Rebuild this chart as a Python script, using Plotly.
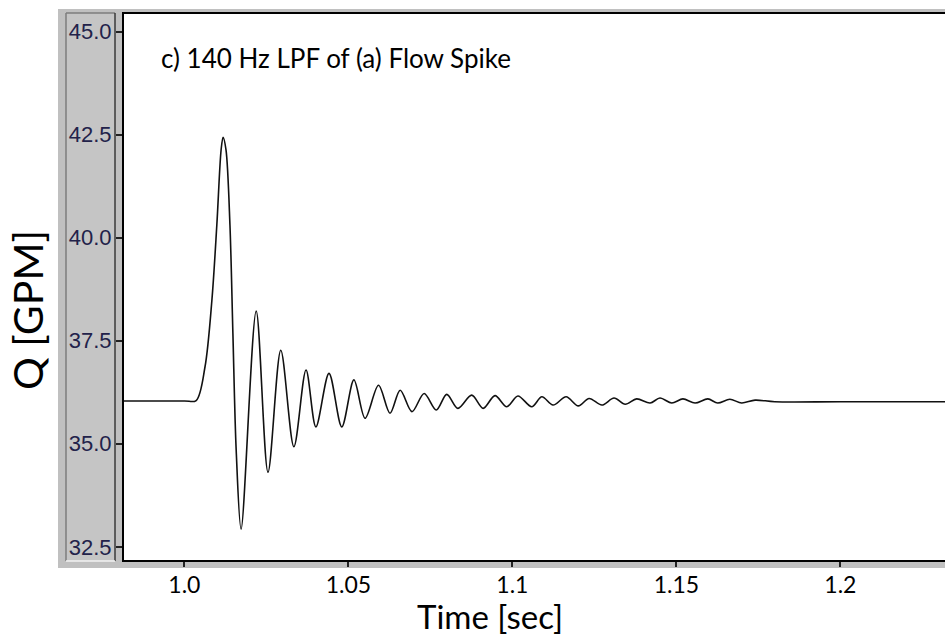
import plotly.graph_objects as go

# ---- data ----
time_s = [0.9816, 1.0000, 1.0036, 1.0063, 1.0084, 1.0099, 1.0112, 1.0118, 1.0127, 1.0139,
          1.0148, 1.0158, 1.0173,
          1.0219, 1.0255, 1.0294, 1.0334, 1.0371, 1.0401, 1.0441, 1.0480, 1.0517, 1.0551,
          1.0592, 1.0627, 1.0658, 1.0694, 1.0731, 1.0768, 1.0800, 1.0834, 1.0876, 1.0911,
          1.0947, 1.0983, 1.1017, 1.1059, 1.1090, 1.1124, 1.1164, 1.1201, 1.1234, 1.1273,
          1.1310, 1.1344, 1.1379, 1.1420, 1.1450, 1.1486, 1.1520, 1.1557, 1.1596, 1.1626,
          1.1663, 1.1699, 1.1740, 1.1800, 1.2000, 1.2320]
flow_gpm = [36.04, 36.04, 36.05, 36.87, 38.49, 40.31, 42.13, 42.44, 42.13, 40.31,
            37.68, 34.85, 32.93,
            38.22, 34.31, 37.27, 34.93, 36.79, 35.41, 36.71, 35.41, 36.55, 35.62,
            36.42, 35.74, 36.30, 35.78, 36.22, 35.82, 36.20, 35.86, 36.18, 35.86,
            36.17, 35.90, 36.16, 35.90, 36.14, 35.94, 36.14, 35.92, 36.10, 35.94,
            36.11, 35.96, 36.09, 35.99, 36.11, 35.99, 36.09, 35.99, 36.09, 35.99,
            36.08, 35.99, 36.06, 36.02, 36.02, 36.02]

x_tickvals = [1.0, 1.05, 1.1, 1.15, 1.2]
x_ticktext = ["1.0", "1.05", "1.1", "1.15", "1.2"]
y_tickvals = [32.5, 35.0, 37.5, 40.0, 42.5, 45.0]
y_ticktext = ["32.5", "35.0", "37.5", "40.0", "42.5", "45.0"]

panel_title = "c) 140 Hz LPF of (a) Flow Spike"
x_title = "Time [sec]"
y_title = "Q [GPM]"

# ---- layout geometry (pixels) ----
W, H = 945, 637
L, R, T, B = 124, 0, 14, 77
PW, PH = W - L - R, H - T - B


def px(x):
    return (x - L) / PW


def py(y):
    return (H - B - y) / PH


fig = go.Figure()
fig.add_trace(go.Scatter(
    x=time_s, y=flow_gpm, mode="lines",
    line=dict(color="#111111", width=1.6, shape="spline", smoothing=0.9),
    showlegend=False, hoverinfo="skip"))

shapes = [
    dict(type="rect", xref="paper", yref="paper", x0=px(58), x1=1.0, y0=py(568), y1=py(9),
         fillcolor="#c0c0c0", line=dict(width=0), layer="below"),
    dict(type="rect", xref="paper", yref="paper", x0=0.0, x1=1.0, y0=0.0, y1=1.0,
         fillcolor="#ffffff", line=dict(width=0), layer="below"),
    dict(type="rect", xref="paper", yref="paper", x0=px(66), x1=px(115), y0=py(561), y1=py(13),
         fillcolor="#c5c5c5", line=dict(width=0), layer="below"),
    dict(type="line", xref="paper", yref="paper", x0=px(66), x1=px(66), y0=py(561), y1=py(13),
         line=dict(color="#7c7c7c", width=1.5), layer="below"),
    dict(type="line", xref="paper", yref="paper", x0=px(66), x1=px(115), y0=py(13), y1=py(13),
         line=dict(color="#7c7c7c", width=1.5), layer="below"),
    dict(type="line", xref="paper", yref="paper", x0=px(115), x1=px(115), y0=py(561), y1=py(13),
         line=dict(color="#3a3a3a", width=1.5), layer="below"),
    dict(type="line", xref="paper", yref="paper", x0=px(66), x1=px(115), y0=py(561), y1=py(561),
         line=dict(color="#f2f2f2", width=1.5), layer="below"),
]

annotations = [
    dict(text=panel_title, xref="paper", yref="paper", x=px(159), y=py(58),
         xanchor="left", yanchor="middle", showarrow=False,
         font=dict(family="Lato", size=26, color="#000000")),
    dict(text=x_title, xref="paper", yref="paper", x=px(490), y=py(616),
         xanchor="center", yanchor="middle", showarrow=False,
         font=dict(family="Lato", size=33, color="#000000")),
    dict(text=y_title, xref="paper", yref="paper", x=px(27), y=py(310),
         xanchor="center", yanchor="middle", showarrow=False, textangle=-90,
         font=dict(family="Lato", size=41, color="#000000")),
]

fig.update_layout(
    width=W, height=H,
    margin=dict(l=L, r=R, t=T, b=B, pad=0),
    paper_bgcolor="#ffffff", plot_bgcolor="#ffffff",
    shapes=shapes, annotations=annotations,
    xaxis=dict(range=[0.9816, 1.2319], tickvals=x_tickvals, ticktext=x_ticktext,
               ticks="outside", ticklen=5, tickwidth=1.5, tickcolor="#222222",
               showline=True, linecolor="#000000", linewidth=2, mirror=True,
               showgrid=False, zeroline=False, ticklabelstandoff=-2,
               tickfont=dict(family="Lato", size=23, color="#000000")),
    yaxis=dict(range=[32.18, 45.43], tickvals=y_tickvals, ticktext=y_ticktext,
               ticks="outside", ticklen=6, tickwidth=1.5, tickcolor="#222222",
               showline=True, linecolor="#000000", linewidth=2, mirror=False,
               showgrid=False, zeroline=False, ticklabelstandoff=0,
               tickfont=dict(family="Liberation Sans", size=22, color="#22224a")),
)

fig.write_html("out.html")
